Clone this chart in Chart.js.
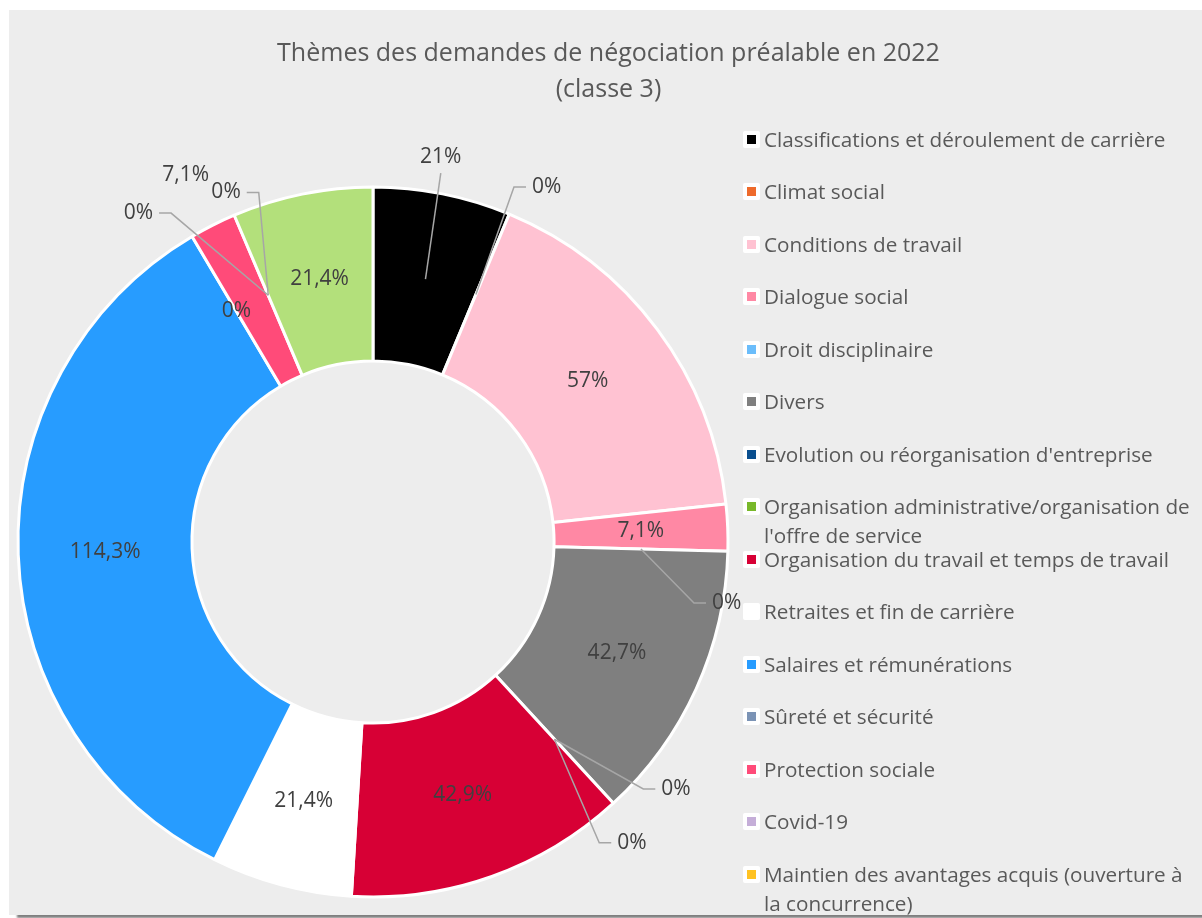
<!DOCTYPE html>
<html lang="fr">
<head>
<meta charset="utf-8">
<title>Thèmes des demandes de négociation préalable en 2022</title>
<script src="https://cdn.jsdelivr.net/npm/chart.js"></script>
<style>
  html, body { margin: 0; padding: 0; background: #fff; overflow: hidden; }
  #panel {
    position: absolute; left: 9px; top: 10px; width: 1193px; height: 905px;
    background: #EDEDED; overflow: hidden;
    box-shadow: 8px 3px 2px rgba(0, 0, 0, 0.5);
  }
  #chart { position: absolute; left: 0; top: 0; }
  #legend { position: absolute; left: 734px; top: 0; width: 459px; height: 905px; }
  #legend .item { position: absolute; left: 0; display: flex; align-items: flex-start; }
  #legend .box {
    flex: none; width: 17px; height: 17px; margin-top: 6px; background: #fff; border-radius: 2px;
    display: flex; align-items: center; justify-content: center;
  }
  #legend .box span { display: block; width: 9px; height: 9px; }
  #legend .txt {
    margin-left: 4px; width: 428px; color: #595959;
    font-family: "Open Sans", sans-serif; font-size: 20.7px; line-height: 29px;
  }
</style>
</head>
<body>
<div id="panel">
  <canvas id="chart" width="1193" height="905"></canvas>
  <div id="legend"></div>
</div>

<script>
/* ---------------- DATA ---------------- */
const categories = [
  'Classifications et déroulement de carrière',
  'Climat social',
  'Conditions de travail',
  'Dialogue social',
  'Droit disciplinaire',
  'Divers',
  "Evolution ou réorganisation d'entreprise",
  "Organisation administrative/organisation de l'offre de service",
  'Organisation du travail et temps de travail',
  'Retraites et fin de carrière',
  'Salaires et rémunérations',
  'Sûreté et sécurité',
  'Protection sociale',
  'Covid-19',
  'Maintien des avantages acquis (ouverture à la concurrence)',
  'Autres'
];
const values = [21, 0, 57, 7.1, 0, 42.7, 0, 0, 42.9, 21.4, 114.3, 0, 7.1, 0, 0, 21.4];
const colors = [
  '#000000', '#EE6A2B', '#FFC2D2', '#FF88A4', '#6BBDFB', '#7F7F7F', '#0A4F8F', '#78B82A',
  '#D70035', '#FFFFFF', '#279CFF', '#7B93B5', '#FF4B79', '#C5AED8', '#FFC222', '#B3E07B'
];
const titleLines = ['Thèmes des demandes de négociation préalable en 2022', '(classe 3)'];

/* ---------------- LABEL PLACEMENT (style) ---------------- */
// r = factor of outer radius, da = degrees from slice middle
const labelPlacement = {
  0:  { r: 1.101, da: -1.3, leader: 'bottom' },
  1:  { r: 1.113, da: 3.5,  leader: 'side' },
  4:  { r: 1.011, da: 8.3,  leader: 'side' },
  6:  { r: 1.101, da: -8.2, leader: 'side' },
  7:  { r: 1.118, da: 1.9,  leader: 'side' },
  12: { r: 1.161, da: -0.2 },
  13: { r: 1.138, da: -12.5, leader: 'side' },
  14: { r: 1.068, da: 0.2,  leader: 'side' }
};

function fmt(v) {
  return String(v).replace('.', ',') + '%';
}

// title centred over the whole panel, not over the chart area
const panelTitle = {
  id: 'panelTitle',
  afterDraw(chart) {
    const ctx = chart.ctx;
    ctx.save();
    ctx.font = '25px "Open Sans", sans-serif';
    ctx.fillStyle = '#595959';
    ctx.textAlign = 'center';
    ctx.textBaseline = 'middle';
    titleLines.forEach((line, i) => ctx.fillText(line, chart.width / 2 + 3, 44 + i * 36));
    ctx.restore();
  }
};

const sliceLabels = {
  id: 'sliceLabels',
  afterDatasetsDraw(chart) {
    const ctx = chart.ctx;
    const meta = chart.getDatasetMeta(0);
    ctx.save();
    ctx.font = '21px "Open Sans", sans-serif';
    ctx.textAlign = 'center';
    ctx.textBaseline = 'middle';
    meta.data.forEach((arc, i) => {
      const p = arc.getProps(['x', 'y', 'startAngle', 'endAngle', 'innerRadius', 'outerRadius'], true);
      const mid = (p.startAngle + p.endAngle) / 2;
      const ringR = (p.innerRadius + p.outerRadius) / 2;
      const anchor = { x: p.x + Math.cos(mid) * ringR, y: p.y + Math.sin(mid) * ringR };
      const place = labelPlacement[i];
      const text = fmt(values[i]);
      let pos = anchor;
      if (place) {
        const a = mid + place.da * Math.PI / 180;
        const r = place.r * p.outerRadius;
        pos = { x: p.x + Math.cos(a) * r, y: p.y + Math.sin(a) * r };
      }
      if (place && place.leader) {
        const w = ctx.measureText(text).width;
        ctx.strokeStyle = '#A6A6A6';
        ctx.lineWidth = 1.5;
        ctx.beginPath();
        if (place.leader === 'bottom') {
          ctx.moveTo(pos.x, pos.y + 16);
        } else {
          const dir = pos.x > anchor.x ? -1 : 1;
          const sx = pos.x + dir * (w / 2 + 6);
          ctx.moveTo(sx, pos.y);
          ctx.lineTo(sx + dir * 12, pos.y);
        }
        ctx.lineTo(anchor.x, anchor.y);
        ctx.stroke();
      }
      ctx.fillStyle = '#404040';
      ctx.fillText(text, pos.x, pos.y);
    });
    ctx.restore();
  }
};

const chart = new Chart(document.getElementById('chart'), {
  type: 'doughnut',
  data: {
    labels: categories,
    datasets: [{
      data: values,
      backgroundColor: colors,
      borderColor: '#FFFFFF',
      borderWidth: 3
    }]
  },
  options: {
    responsive: false,
    animation: false,
    radius: 355,
    cutout: '51%',
    layout: { padding: { left: 0, right: 465, top: 159, bottom: 0 } },
    plugins: {
      legend: { display: false },
      tooltip: { enabled: false },
      title: { display: false }
    }
  },
  plugins: [sliceLabels, panelTitle]
});

/* ---------------- HTML LEGEND ---------------- */
const legendBox = document.getElementById('legend');
const items = chart.options.plugins.legend.labels.generateLabels(chart);
items.forEach((it, i) => {
  const row = document.createElement('div');
  row.className = 'item';
  row.style.top = (139 - 10 - 14.5 + i * 52.5) + 'px';
  const box = document.createElement('div');
  box.className = 'box';
  const sw = document.createElement('span');
  sw.style.background = it.fillStyle;
  box.appendChild(sw);
  const txt = document.createElement('div');
  txt.className = 'txt';
  txt.textContent = it.text;
  row.appendChild(box);
  row.appendChild(txt);
  legendBox.appendChild(row);
});
</script>
</body>
</html>
